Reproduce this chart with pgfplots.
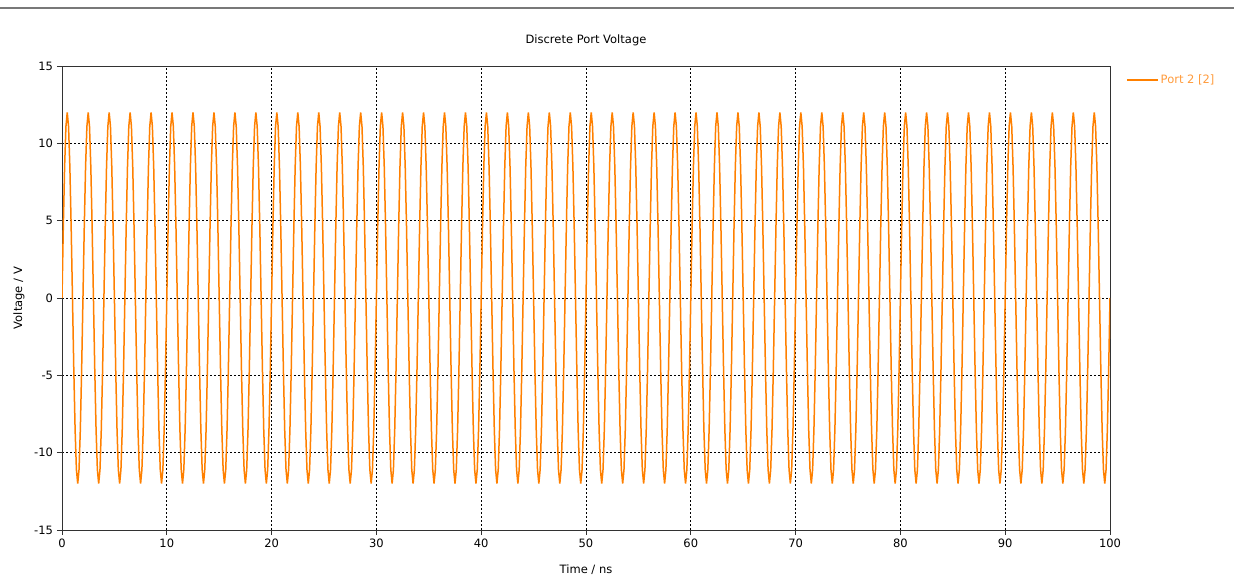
\documentclass[border=0pt]{standalone}
\usepackage{pgfplots}
\pgfplotsset{compat=1.18}
\usepackage{fontspec}
\setmainfont{DejaVu Sans}
\definecolor{cstorange}{RGB}{255,128,0}
\definecolor{legorange}{RGB}{255,155,60}
\definecolor{topgray}{RGB}{120,120,120}
\definecolor{axisdark}{RGB}{50,50,50}
\begin{document}
\fontsize{11.5}{13.8}\selectfont
\begin{tikzpicture}
\useasboundingbox (0pt,0pt) rectangle (1234pt,575pt);
\draw[topgray, line width=1.2pt] (0pt,567pt) -- (1234pt,567pt);
\begin{axis}[
 at={(62pt,45pt)}, anchor=south west,
 scale only axis, width=1048pt, height=464pt,
 xmin=0,xmax=100,ymin=-15,ymax=15,
 xtick={0,10,...,100}, ytick={-15,-10,...,15},
 tick pos=left, tick align=outside, major tick length=5pt,
 tick style={axisdark, line width=0.8pt},
 axis line style={axisdark, line width=0.9pt},
 grid=major,
 major grid style={black, line width=0.7pt, dash pattern=on 2pt off 2pt},
 /pgf/number format/assume math mode=true,
 tick label style={font=\fontsize{11.5}{13.8}\selectfont, text=black},
 title={Discrete Port Voltage},
 title style={at={(axis description cs:0.5,1.043)}, anchor=center},
 xlabel={Time / ns}, ylabel={Voltage / V},
 xlabel style={at={(axis description cs:0.5,-0.086)}, anchor=center},
 ylabel style={at={(axis description cs:-0.041,0.5)}, anchor=center},
 legend style={at={(axis description cs:1.0153,0.97)}, anchor=west, draw=none, fill=none, inner sep=0pt, text=legorange},
 legend cell align=left,
 legend image code/.code={\draw[#1] (0pt,0pt) -- (31pt,0pt);},
]
\addplot[cstorange, line width=1.5pt, mark=none] coordinates {
(0,0)(0.125,4.59)(0.25,8.49)(0.375,11.09)(0.5,12)(0.625,11.09)(0.75,8.49)(0.875,4.59)(1,0)(1.125,-4.59)(1.25,-8.49)(1.375,-11.09)(1.5,-12)(1.625,-11.09)(1.75,-8.49)(1.875,-4.59)
(2,0)(2.125,4.59)(2.25,8.49)(2.375,11.09)(2.5,12)(2.625,11.09)(2.75,8.49)(2.875,4.59)(3,0)(3.125,-4.59)(3.25,-8.49)(3.375,-11.09)(3.5,-12)(3.625,-11.09)(3.75,-8.49)(3.875,-4.59)
(4,0)(4.125,4.59)(4.25,8.49)(4.375,11.09)(4.5,12)(4.625,11.09)(4.75,8.49)(4.875,4.59)(5,0)(5.125,-4.59)(5.25,-8.49)(5.375,-11.09)(5.5,-12)(5.625,-11.09)(5.75,-8.49)(5.875,-4.59)
(6,0)(6.125,4.59)(6.25,8.49)(6.375,11.09)(6.5,12)(6.625,11.09)(6.75,8.49)(6.875,4.59)(7,0)(7.125,-4.59)(7.25,-8.49)(7.375,-11.09)(7.5,-12)(7.625,-11.09)(7.75,-8.49)(7.875,-4.59)
(8,0)(8.125,4.59)(8.25,8.49)(8.375,11.09)(8.5,12)(8.625,11.09)(8.75,8.49)(8.875,4.59)(9,0)(9.125,-4.59)(9.25,-8.49)(9.375,-11.09)(9.5,-12)(9.625,-11.09)(9.75,-8.49)(9.875,-4.59)
(10,0)(10.125,4.59)(10.25,8.49)(10.375,11.09)(10.5,12)(10.625,11.09)(10.75,8.49)(10.875,4.59)(11,0)(11.125,-4.59)(11.25,-8.49)(11.375,-11.09)(11.5,-12)(11.625,-11.09)(11.75,-8.49)(11.875,-4.59)
(12,0)(12.125,4.59)(12.25,8.49)(12.375,11.09)(12.5,12)(12.625,11.09)(12.75,8.49)(12.875,4.59)(13,0)(13.125,-4.59)(13.25,-8.49)(13.375,-11.09)(13.5,-12)(13.625,-11.09)(13.75,-8.49)(13.875,-4.59)
(14,0)(14.125,4.59)(14.25,8.49)(14.375,11.09)(14.5,12)(14.625,11.09)(14.75,8.49)(14.875,4.59)(15,0)(15.125,-4.59)(15.25,-8.49)(15.375,-11.09)(15.5,-12)(15.625,-11.09)(15.75,-8.49)(15.875,-4.59)
(16,0)(16.125,4.59)(16.25,8.49)(16.375,11.09)(16.5,12)(16.625,11.09)(16.75,8.49)(16.875,4.59)(17,0)(17.125,-4.59)(17.25,-8.49)(17.375,-11.09)(17.5,-12)(17.625,-11.09)(17.75,-8.49)(17.875,-4.59)
(18,0)(18.125,4.59)(18.25,8.49)(18.375,11.09)(18.5,12)(18.625,11.09)(18.75,8.49)(18.875,4.59)(19,0)(19.125,-4.59)(19.25,-8.49)(19.375,-11.09)(19.5,-12)(19.625,-11.09)(19.75,-8.49)(19.875,-4.59)
(20,0)(20.125,4.59)(20.25,8.49)(20.375,11.09)(20.5,12)(20.625,11.09)(20.75,8.49)(20.875,4.59)(21,0)(21.125,-4.59)(21.25,-8.49)(21.375,-11.09)(21.5,-12)(21.625,-11.09)(21.75,-8.49)(21.875,-4.59)
(22,0)(22.125,4.59)(22.25,8.49)(22.375,11.09)(22.5,12)(22.625,11.09)(22.75,8.49)(22.875,4.59)(23,0)(23.125,-4.59)(23.25,-8.49)(23.375,-11.09)(23.5,-12)(23.625,-11.09)(23.75,-8.49)(23.875,-4.59)
(24,0)(24.125,4.59)(24.25,8.49)(24.375,11.09)(24.5,12)(24.625,11.09)(24.75,8.49)(24.875,4.59)(25,0)(25.125,-4.59)(25.25,-8.49)(25.375,-11.09)(25.5,-12)(25.625,-11.09)(25.75,-8.49)(25.875,-4.59)
(26,0)(26.125,4.59)(26.25,8.49)(26.375,11.09)(26.5,12)(26.625,11.09)(26.75,8.49)(26.875,4.59)(27,0)(27.125,-4.59)(27.25,-8.49)(27.375,-11.09)(27.5,-12)(27.625,-11.09)(27.75,-8.49)(27.875,-4.59)
(28,0)(28.125,4.59)(28.25,8.49)(28.375,11.09)(28.5,12)(28.625,11.09)(28.75,8.49)(28.875,4.59)(29,0)(29.125,-4.59)(29.25,-8.49)(29.375,-11.09)(29.5,-12)(29.625,-11.09)(29.75,-8.49)(29.875,-4.59)
(30,0)(30.125,4.59)(30.25,8.49)(30.375,11.09)(30.5,12)(30.625,11.09)(30.75,8.49)(30.875,4.59)(31,0)(31.125,-4.59)(31.25,-8.49)(31.375,-11.09)(31.5,-12)(31.625,-11.09)(31.75,-8.49)(31.875,-4.59)
(32,0)(32.125,4.59)(32.25,8.49)(32.375,11.09)(32.5,12)(32.625,11.09)(32.75,8.49)(32.875,4.59)(33,0)(33.125,-4.59)(33.25,-8.49)(33.375,-11.09)(33.5,-12)(33.625,-11.09)(33.75,-8.49)(33.875,-4.59)
(34,0)(34.125,4.59)(34.25,8.49)(34.375,11.09)(34.5,12)(34.625,11.09)(34.75,8.49)(34.875,4.59)(35,0)(35.125,-4.59)(35.25,-8.49)(35.375,-11.09)(35.5,-12)(35.625,-11.09)(35.75,-8.49)(35.875,-4.59)
(36,0)(36.125,4.59)(36.25,8.49)(36.375,11.09)(36.5,12)(36.625,11.09)(36.75,8.49)(36.875,4.59)(37,0)(37.125,-4.59)(37.25,-8.49)(37.375,-11.09)(37.5,-12)(37.625,-11.09)(37.75,-8.49)(37.875,-4.59)
(38,0)(38.125,4.59)(38.25,8.49)(38.375,11.09)(38.5,12)(38.625,11.09)(38.75,8.49)(38.875,4.59)(39,0)(39.125,-4.59)(39.25,-8.49)(39.375,-11.09)(39.5,-12)(39.625,-11.09)(39.75,-8.49)(39.875,-4.59)
(40,0)(40.125,4.59)(40.25,8.49)(40.375,11.09)(40.5,12)(40.625,11.09)(40.75,8.49)(40.875,4.59)(41,0)(41.125,-4.59)(41.25,-8.49)(41.375,-11.09)(41.5,-12)(41.625,-11.09)(41.75,-8.49)(41.875,-4.59)
(42,0)(42.125,4.59)(42.25,8.49)(42.375,11.09)(42.5,12)(42.625,11.09)(42.75,8.49)(42.875,4.59)(43,0)(43.125,-4.59)(43.25,-8.49)(43.375,-11.09)(43.5,-12)(43.625,-11.09)(43.75,-8.49)(43.875,-4.59)
(44,0)(44.125,4.59)(44.25,8.49)(44.375,11.09)(44.5,12)(44.625,11.09)(44.75,8.49)(44.875,4.59)(45,0)(45.125,-4.59)(45.25,-8.49)(45.375,-11.09)(45.5,-12)(45.625,-11.09)(45.75,-8.49)(45.875,-4.59)
(46,0)(46.125,4.59)(46.25,8.49)(46.375,11.09)(46.5,12)(46.625,11.09)(46.75,8.49)(46.875,4.59)(47,0)(47.125,-4.59)(47.25,-8.49)(47.375,-11.09)(47.5,-12)(47.625,-11.09)(47.75,-8.49)(47.875,-4.59)
(48,0)(48.125,4.59)(48.25,8.49)(48.375,11.09)(48.5,12)(48.625,11.09)(48.75,8.49)(48.875,4.59)(49,0)(49.125,-4.59)(49.25,-8.49)(49.375,-11.09)(49.5,-12)(49.625,-11.09)(49.75,-8.49)(49.875,-4.59)
(50,0)(50.125,4.59)(50.25,8.49)(50.375,11.09)(50.5,12)(50.625,11.09)(50.75,8.49)(50.875,4.59)(51,0)(51.125,-4.59)(51.25,-8.49)(51.375,-11.09)(51.5,-12)(51.625,-11.09)(51.75,-8.49)(51.875,-4.59)
(52,0)(52.125,4.59)(52.25,8.49)(52.375,11.09)(52.5,12)(52.625,11.09)(52.75,8.49)(52.875,4.59)(53,0)(53.125,-4.59)(53.25,-8.49)(53.375,-11.09)(53.5,-12)(53.625,-11.09)(53.75,-8.49)(53.875,-4.59)
(54,0)(54.125,4.59)(54.25,8.49)(54.375,11.09)(54.5,12)(54.625,11.09)(54.75,8.49)(54.875,4.59)(55,0)(55.125,-4.59)(55.25,-8.49)(55.375,-11.09)(55.5,-12)(55.625,-11.09)(55.75,-8.49)(55.875,-4.59)
(56,0)(56.125,4.59)(56.25,8.49)(56.375,11.09)(56.5,12)(56.625,11.09)(56.75,8.49)(56.875,4.59)(57,0)(57.125,-4.59)(57.25,-8.49)(57.375,-11.09)(57.5,-12)(57.625,-11.09)(57.75,-8.49)(57.875,-4.59)
(58,0)(58.125,4.59)(58.25,8.49)(58.375,11.09)(58.5,12)(58.625,11.09)(58.75,8.49)(58.875,4.59)(59,0)(59.125,-4.59)(59.25,-8.49)(59.375,-11.09)(59.5,-12)(59.625,-11.09)(59.75,-8.49)(59.875,-4.59)
(60,0)(60.125,4.59)(60.25,8.49)(60.375,11.09)(60.5,12)(60.625,11.09)(60.75,8.49)(60.875,4.59)(61,0)(61.125,-4.59)(61.25,-8.49)(61.375,-11.09)(61.5,-12)(61.625,-11.09)(61.75,-8.49)(61.875,-4.59)
(62,0)(62.125,4.59)(62.25,8.49)(62.375,11.09)(62.5,12)(62.625,11.09)(62.75,8.49)(62.875,4.59)(63,0)(63.125,-4.59)(63.25,-8.49)(63.375,-11.09)(63.5,-12)(63.625,-11.09)(63.75,-8.49)(63.875,-4.59)
(64,0)(64.125,4.59)(64.25,8.49)(64.375,11.09)(64.5,12)(64.625,11.09)(64.75,8.49)(64.875,4.59)(65,0)(65.125,-4.59)(65.25,-8.49)(65.375,-11.09)(65.5,-12)(65.625,-11.09)(65.75,-8.49)(65.875,-4.59)
(66,0)(66.125,4.59)(66.25,8.49)(66.375,11.09)(66.5,12)(66.625,11.09)(66.75,8.49)(66.875,4.59)(67,0)(67.125,-4.59)(67.25,-8.49)(67.375,-11.09)(67.5,-12)(67.625,-11.09)(67.75,-8.49)(67.875,-4.59)
(68,0)(68.125,4.59)(68.25,8.49)(68.375,11.09)(68.5,12)(68.625,11.09)(68.75,8.49)(68.875,4.59)(69,0)(69.125,-4.59)(69.25,-8.49)(69.375,-11.09)(69.5,-12)(69.625,-11.09)(69.75,-8.49)(69.875,-4.59)
(70,0)(70.125,4.59)(70.25,8.49)(70.375,11.09)(70.5,12)(70.625,11.09)(70.75,8.49)(70.875,4.59)(71,0)(71.125,-4.59)(71.25,-8.49)(71.375,-11.09)(71.5,-12)(71.625,-11.09)(71.75,-8.49)(71.875,-4.59)
(72,0)(72.125,4.59)(72.25,8.49)(72.375,11.09)(72.5,12)(72.625,11.09)(72.75,8.49)(72.875,4.59)(73,0)(73.125,-4.59)(73.25,-8.49)(73.375,-11.09)(73.5,-12)(73.625,-11.09)(73.75,-8.49)(73.875,-4.59)
(74,0)(74.125,4.59)(74.25,8.49)(74.375,11.09)(74.5,12)(74.625,11.09)(74.75,8.49)(74.875,4.59)(75,0)(75.125,-4.59)(75.25,-8.49)(75.375,-11.09)(75.5,-12)(75.625,-11.09)(75.75,-8.49)(75.875,-4.59)
(76,0)(76.125,4.59)(76.25,8.49)(76.375,11.09)(76.5,12)(76.625,11.09)(76.75,8.49)(76.875,4.59)(77,0)(77.125,-4.59)(77.25,-8.49)(77.375,-11.09)(77.5,-12)(77.625,-11.09)(77.75,-8.49)(77.875,-4.59)
(78,0)(78.125,4.59)(78.25,8.49)(78.375,11.09)(78.5,12)(78.625,11.09)(78.75,8.49)(78.875,4.59)(79,0)(79.125,-4.59)(79.25,-8.49)(79.375,-11.09)(79.5,-12)(79.625,-11.09)(79.75,-8.49)(79.875,-4.59)
(80,0)(80.125,4.59)(80.25,8.49)(80.375,11.09)(80.5,12)(80.625,11.09)(80.75,8.49)(80.875,4.59)(81,0)(81.125,-4.59)(81.25,-8.49)(81.375,-11.09)(81.5,-12)(81.625,-11.09)(81.75,-8.49)(81.875,-4.59)
(82,0)(82.125,4.59)(82.25,8.49)(82.375,11.09)(82.5,12)(82.625,11.09)(82.75,8.49)(82.875,4.59)(83,0)(83.125,-4.59)(83.25,-8.49)(83.375,-11.09)(83.5,-12)(83.625,-11.09)(83.75,-8.49)(83.875,-4.59)
(84,0)(84.125,4.59)(84.25,8.49)(84.375,11.09)(84.5,12)(84.625,11.09)(84.75,8.49)(84.875,4.59)(85,0)(85.125,-4.59)(85.25,-8.49)(85.375,-11.09)(85.5,-12)(85.625,-11.09)(85.75,-8.49)(85.875,-4.59)
(86,0)(86.125,4.59)(86.25,8.49)(86.375,11.09)(86.5,12)(86.625,11.09)(86.75,8.49)(86.875,4.59)(87,0)(87.125,-4.59)(87.25,-8.49)(87.375,-11.09)(87.5,-12)(87.625,-11.09)(87.75,-8.49)(87.875,-4.59)
(88,0)(88.125,4.59)(88.25,8.49)(88.375,11.09)(88.5,12)(88.625,11.09)(88.75,8.49)(88.875,4.59)(89,0)(89.125,-4.59)(89.25,-8.49)(89.375,-11.09)(89.5,-12)(89.625,-11.09)(89.75,-8.49)(89.875,-4.59)
(90,0)(90.125,4.59)(90.25,8.49)(90.375,11.09)(90.5,12)(90.625,11.09)(90.75,8.49)(90.875,4.59)(91,0)(91.125,-4.59)(91.25,-8.49)(91.375,-11.09)(91.5,-12)(91.625,-11.09)(91.75,-8.49)(91.875,-4.59)
(92,0)(92.125,4.59)(92.25,8.49)(92.375,11.09)(92.5,12)(92.625,11.09)(92.75,8.49)(92.875,4.59)(93,0)(93.125,-4.59)(93.25,-8.49)(93.375,-11.09)(93.5,-12)(93.625,-11.09)(93.75,-8.49)(93.875,-4.59)
(94,0)(94.125,4.59)(94.25,8.49)(94.375,11.09)(94.5,12)(94.625,11.09)(94.75,8.49)(94.875,4.59)(95,0)(95.125,-4.59)(95.25,-8.49)(95.375,-11.09)(95.5,-12)(95.625,-11.09)(95.75,-8.49)(95.875,-4.59)
(96,0)(96.125,4.59)(96.25,8.49)(96.375,11.09)(96.5,12)(96.625,11.09)(96.75,8.49)(96.875,4.59)(97,0)(97.125,-4.59)(97.25,-8.49)(97.375,-11.09)(97.5,-12)(97.625,-11.09)(97.75,-8.49)(97.875,-4.59)
(98,0)(98.125,4.59)(98.25,8.49)(98.375,11.09)(98.5,12)(98.625,11.09)(98.75,8.49)(98.875,4.59)(99,0)(99.125,-4.59)(99.25,-8.49)(99.375,-11.09)(99.5,-12)(99.625,-11.09)(99.75,-8.49)(99.875,-4.59)
(100,0)
};
\addlegendentry{Port 2 [2]}
\end{axis}
\end{tikzpicture}
\end{document}
